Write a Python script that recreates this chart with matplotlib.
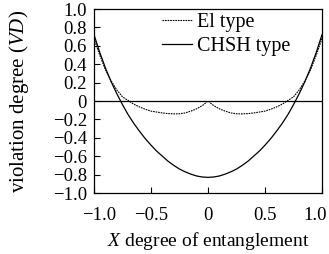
import numpy as np
import matplotlib.pyplot as plt
import matplotlib.transforms as mtransforms

plt.rcParams['font.family'] = ['Liberation Serif', 'DejaVu Serif']
plt.rcParams['mathtext.fontset'] = 'custom'
plt.rcParams['mathtext.rm'] = 'Liberation Serif'
plt.rcParams['mathtext.it'] = 'Liberation Serif:italic'

# degree of entanglement
x = [-1.00, -0.95, -0.90, -0.85, -0.80, -0.75, -0.70, -0.65, -0.60, -0.55,
     -0.50, -0.45, -0.40, -0.35, -0.30, -0.25, -0.20, -0.15, -0.10, -0.05,
     0.00, 0.05, 0.10, 0.15, 0.20, 0.25, 0.30, 0.35, 0.40, 0.45,
     0.50, 0.55, 0.60, 0.65, 0.70, 0.75, 0.80, 0.85, 0.90, 0.95, 1.00]

# violation degree, EI type
vd_ei = [0.68, 0.50, 0.34, 0.22, 0.12, 0.045, 0.005, -0.035, -0.065, -0.09,
         -0.11, -0.12, -0.13, -0.137, -0.14, -0.138, -0.13, -0.11, -0.085, -0.05,
         0.00, -0.05, -0.085, -0.11, -0.13, -0.138, -0.14, -0.137, -0.13, -0.12,
         -0.11, -0.09, -0.065, -0.035, 0.005, 0.045, 0.12, 0.22, 0.34, 0.50, 0.68]

# violation degree, CHSH type
vd_chsh = [0.72, 0.53, 0.36, 0.21, 0.08, -0.04, -0.15, -0.245, -0.33, -0.41,
           -0.48, -0.545, -0.60, -0.655, -0.70, -0.74, -0.77, -0.795, -0.815, -0.826,
           -0.83, -0.826, -0.815, -0.795, -0.77, -0.74, -0.70, -0.655, -0.60, -0.545,
           -0.48, -0.41, -0.33, -0.245, -0.15, -0.04, 0.08, 0.21, 0.36, 0.53, 0.72]

xticks = [-1.0, -0.5, 0, 0.5, 1.0]
xtick_labels = ['\u22121.0', '\u22120.5', '0', '0.5', '1.0']
yticks = [-1.0, -0.8, -0.6, -0.4, -0.2, 0, 0.2, 0.4, 0.6, 0.8, 1.0]
ytick_labels = ['\u22121.0', '\u22120.8', '\u22120.6', '\u22120.4', '\u22120.2', '0',
                '0.2', '0.4', '0.6', '0.8', '1.0']

fig = plt.figure(figsize=(3.29, 2.54), dpi=100)
ax = fig.add_axes([94/329, 61/254, 228/329, 184/254])

ax.plot(x, vd_ei, color='black', lw=0.8, ls=(0, (1.5, 0.8)), label='El type')
ax.plot(x, vd_chsh, color='black', lw=0.9, label='CHSH type')
ax.axhline(0, color='black', lw=0.9)

ax.set_xlim(-1, 1)
ax.set_ylim(-1, 1)
ax.set_xticks(xticks)
ax.set_xticklabels(xtick_labels)
ax.set_yticks(yticks)
ax.set_yticklabels(ytick_labels)
ax.tick_params(direction='in', labelsize=13.5, length=4, width=0.8)
ax.tick_params(axis='x', pad=10)
ax.tick_params(axis='y', pad=5)
for s in ax.spines.values():
    s.set_linewidth(0.9)

# nudge the end labels like the original
xl = ax.get_xticklabels()
xl[0].set_transform(xl[0].get_transform() + mtransforms.ScaledTranslation(5/100, 0, fig.dpi_scale_trans))
xl[-1].set_transform(xl[-1].get_transform() + mtransforms.ScaledTranslation(-7/100, 0, fig.dpi_scale_trans))

ax.set_xlabel(r'$X$ degree of entanglement', fontsize=14)
ax.set_ylabel(r'violation degree ($VD$)', fontsize=15)
ax.xaxis.set_label_coords(0.5, -0.2)
ax.yaxis.set_label_coords(-0.275, 0.5)

ax.legend(loc='upper left', bbox_to_anchor=(0.29, 0.99), frameon=False, fontsize=14.5,
          handlelength=1.5, handletextpad=0.25, borderaxespad=0.0, borderpad=0.1,
          labelspacing=0.25)

fig.savefig('out.png', dpi=100)
